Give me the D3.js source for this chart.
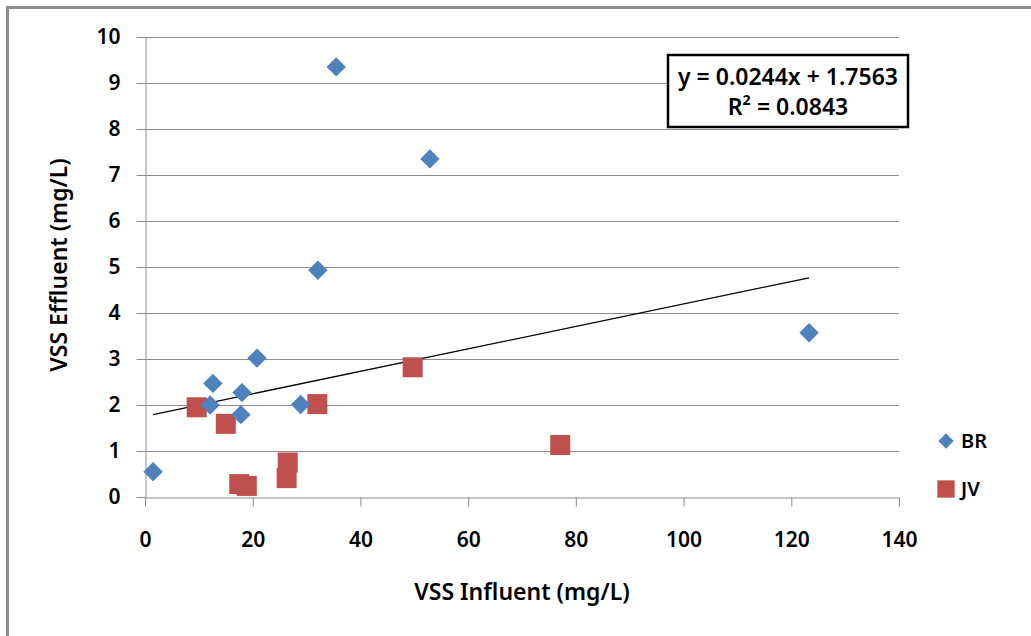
<!DOCTYPE html>
<html>
<head>
<meta charset="utf-8">
<script src="https://cdn.jsdelivr.net/npm/d3@7"></script>
<style>
	body { margin: 0; background: #fff; }
	svg text { font-family: "Noto Sans", "Open Sans", sans-serif; fill: #000; }
</style>
</head>
<body>
<div id="viz"></div>
<script>
// BR series (blue diamonds)
var brInfluent = [1.5, 12.6, 12.1, 18.0, 17.8, 20.8, 28.9, 32.1, 35.5, 52.9, 123.3];
var brEffluent = [0.55, 2.47, 2.0, 2.27, 1.79, 3.02, 2.01, 4.93, 9.35, 7.35, 3.57];

// JV series (red squares)
var jvInfluent = [9.6, 15.0, 17.5, 18.9, 26.5, 26.3, 32.0, 49.7, 77.1];
var jvEffluent = [1.95, 1.59, 0.28, 0.24, 0.75, 0.41, 2.02, 2.82, 1.13];

var xTicks = [0, 20, 40, 60, 80, 100, 120, 140];
var yTicks = [0, 1, 2, 3, 4, 5, 6, 7, 8, 9, 10];

var trendSlope = 0.0244,
		trendIntercept = 1.7563;
var trendLabel = ['y = 0.0244x + 1.7563', 'R² = 0.0843'];

var seriesNames = ['BR', 'JV'];
var seriesColor = { 'BR': '#4F81BD', 'JV': '#C0504D' };

buildViz();

function buildViz(){

	var width = 1031,
			height = 636;

	var svg = d3.select('#viz')
		.append('svg')
		.attr('width', width)
		.attr('height', height);

	// outer chart frame (only left and top edges are in view)
	svg.append('path')
		.attr('d', 'M7.5,' + height + ' V7.5 H' + width)
		.style('fill', 'none')
		.style('stroke', '#8c8c8c')
		.style('stroke-width', 3);

	var x = d3.scaleLinear().domain([0, 140]).range([145, 899]);
	var y = d3.scaleLinear().domain([0, 10]).range([497, 37]);

	// horizontal gridlines
	svg.append('g').selectAll('.grid')
		.data(yTicks.filter(function(d){ return d > 0; }))
		.enter().append('line')
			.attr('x1', x(0))
			.attr('x2', x(140))
			.attr('y1', function(d){ return Math.round(y(d)) + 0.5; })
			.attr('y2', function(d){ return Math.round(y(d)) + 0.5; })
			.style('stroke', '#8c8c8c')
			.style('stroke-width', 1);

	// axis X
	var axisX = svg.append('g')
		.attr('transform', 'translate(0,' + (Math.round(y(0)) + 0.5) + ')')
		.call(d3.axisBottom(x).tickValues(xTicks).tickSize(9).tickPadding(26).tickSizeOuter(0));

	// axis Y
	var axisY = svg.append('g')
		.attr('transform', 'translate(' + (Math.round(x(0)) + 0.5) + ',0)')
		.call(d3.axisLeft(y).tickValues(yTicks).tickSize(9).tickPadding(16).tickSizeOuter(0));

	[axisX, axisY].forEach(function(a){
		a.select('.domain').style('stroke', '#8c8c8c');
		a.selectAll('.tick line').style('stroke', '#8c8c8c');
		a.selectAll('.tick text')
			.style('font-size', '21px')
			.style('font-weight', 600)
			.attr('fill', '#000');
	});

	// axis titles
	svg.append('text')
		.attr('x', x(70))
		.attr('y', 600)
		.attr('text-anchor', 'middle')
		.style('font-size', '23px')
		.style('font-weight', 600)
		.text('VSS Influent (mg/L)');

	svg.append('text')
		.attr('transform', 'translate(67,' + (y(5) - 2) + ') rotate(-90)')
		.attr('text-anchor', 'middle')
		.style('font-size', '23px')
		.style('font-weight', 600)
		.text('VSS Effluent (mg/L)');

	// trend line over the range of all points
	var allX = brInfluent.concat(jvInfluent);
	var xMin = d3.min(allX),
			xMax = d3.max(allX);

	svg.append('line')
		.attr('x1', x(xMin))
		.attr('y1', y(trendSlope * xMin + trendIntercept))
		.attr('x2', x(xMax))
		.attr('y2', y(trendSlope * xMax + trendIntercept))
		.style('stroke', '#000')
		.style('stroke-width', 1.3);

	var diamond = d3.symbol().type(d3.symbolDiamond2).size(240);
	var square = d3.symbol().type(d3.symbolSquare).size(400);

	// JV points
	svg.append('g').selectAll('.jv-point')
		.data(d3.range(jvInfluent.length))
		.enter().append('path')
			.attr('class', 'jv-point')
			.attr('d', square)
			.attr('transform', function(i){ return 'translate(' + x(jvInfluent[i]) + ',' + y(jvEffluent[i]) + ')'; })
			.style('fill', seriesColor['JV']);

	// BR points
	svg.append('g').selectAll('.br-point')
		.data(d3.range(brInfluent.length))
		.enter().append('path')
			.attr('class', 'br-point')
			.attr('d', diamond)
			.attr('transform', function(i){ return 'translate(' + x(brInfluent[i]) + ',' + y(brEffluent[i]) + ')'; })
			.style('fill', seriesColor['BR']);

	// equation box
	var eq = svg.append('g');
	eq.append('rect')
		.attr('x', 668)
		.attr('y', 55)
		.attr('width', 240)
		.attr('height', 72)
		.style('fill', '#fff')
		.style('stroke', '#000')
		.style('stroke-width', 2.5);

	eq.selectAll('.eq-text')
		.data(trendLabel)
		.enter().append('text')
			.attr('x', 788)
			.attr('y', function(d,i){ return 85 + i*30; })
			.attr('text-anchor', 'middle')
			.style('font-size', '23px')
			.style('font-weight', 600)
			.text(function(d){ return d; });

	// legend
	var legend = svg.append('g')
		.attr('transform', 'translate(946,441)');

	legend.selectAll('.legend-mark')
		.data(seriesNames)
		.enter().append('path')
			.attr('d', function(d){ return d === 'BR' ? d3.symbol().type(d3.symbolDiamond2).size(150)() : d3.symbol().type(d3.symbolSquare).size(300)(); })
			.attr('transform', function(d,i){ return 'translate(0,' + i*48 + ')'; })
			.style('fill', function(d){ return seriesColor[d]; });

	legend.selectAll('.legend-text')
		.data(seriesNames)
		.enter().append('text')
			.attr('x', 15)
			.attr('y', function(d,i){ return i*48 + 7; })
			.style('font-size', '20px')
			.style('font-weight', 600)
			.text(function(d){ return d; });
}
</script>
</body>
</html>
